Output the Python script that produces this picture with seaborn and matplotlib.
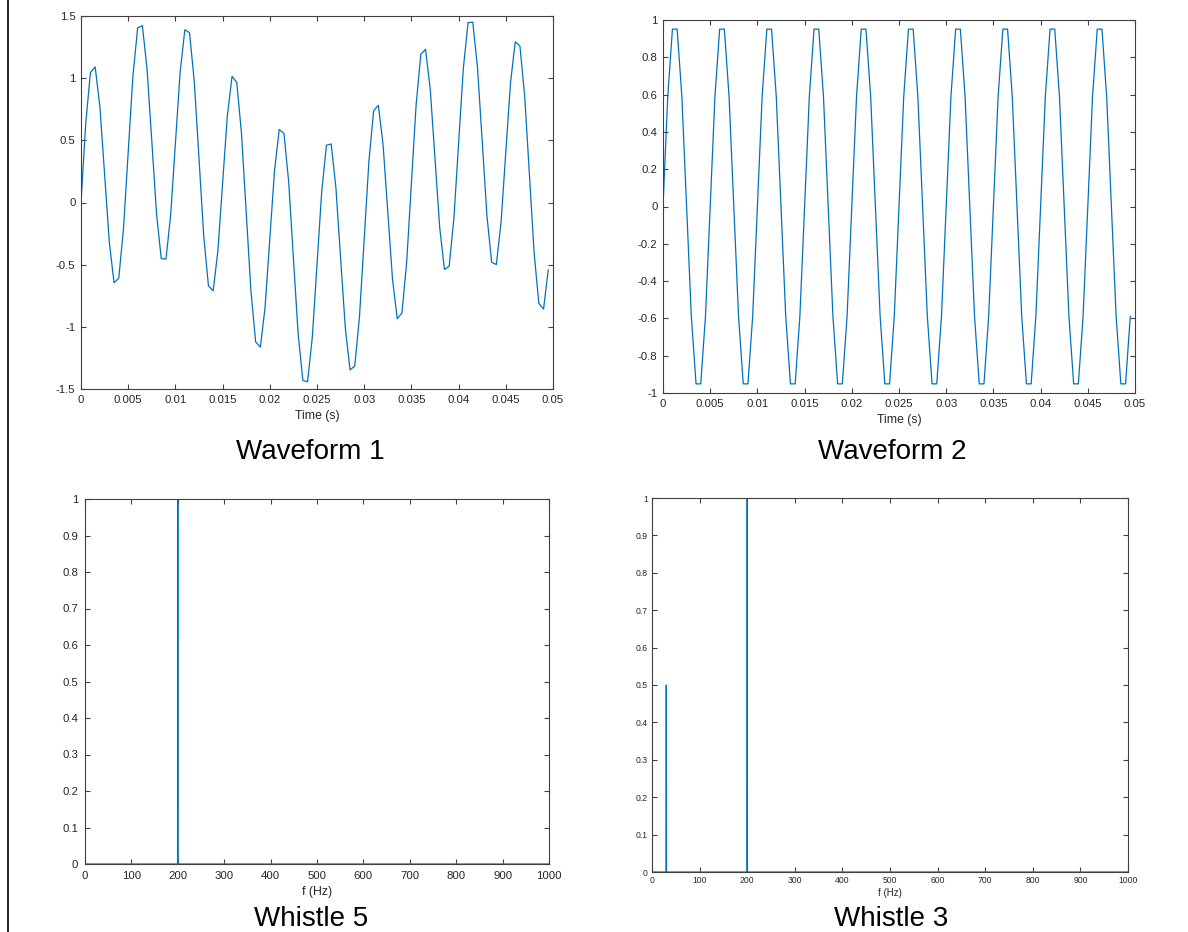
import matplotlib
matplotlib.use("Agg")
import matplotlib.pyplot as plt
from matplotlib.lines import Line2D
from matplotlib.ticker import FixedLocator, FuncFormatter
import seaborn as sns

# ---------------- data ----------------
time_s = [
    0.0000, 0.0005, 0.0010, 0.0015, 0.0020, 0.0025, 0.0030, 0.0035, 0.0040, 0.0045,
    0.0050, 0.0055, 0.0060, 0.0065, 0.0070, 0.0075, 0.0080, 0.0085, 0.0090, 0.0095,
    0.0100, 0.0105, 0.0110, 0.0115, 0.0120, 0.0125, 0.0130, 0.0135, 0.0140, 0.0145,
    0.0150, 0.0155, 0.0160, 0.0165, 0.0170, 0.0175, 0.0180, 0.0185, 0.0190, 0.0195,
    0.0200, 0.0205, 0.0210, 0.0215, 0.0220, 0.0225, 0.0230, 0.0235, 0.0240, 0.0245,
    0.0250, 0.0255, 0.0260, 0.0265, 0.0270, 0.0275, 0.0280, 0.0285, 0.0290, 0.0295,
    0.0300, 0.0305, 0.0310, 0.0315, 0.0320, 0.0325, 0.0330, 0.0335, 0.0340, 0.0345,
    0.0350, 0.0355, 0.0360, 0.0365, 0.0370, 0.0375, 0.0380, 0.0385, 0.0390, 0.0395,
    0.0400, 0.0405, 0.0410, 0.0415, 0.0420, 0.0425, 0.0430, 0.0435, 0.0440, 0.0445,
    0.0450, 0.0455, 0.0460, 0.0465, 0.0470, 0.0475, 0.0480, 0.0485, 0.0490, 0.0495,
]

waveform1 = [
    0.000, 0.635, 1.045, 1.091, 0.772, 0.227, -0.320, -0.645, -0.609, -0.213,
    0.405, 1.018, 1.404, 1.422, 1.072, 0.494, -0.089, -0.451, -0.455, -0.100,
    0.476, 1.047, 1.389, 1.365, 0.973, 0.354, -0.269, -0.670, -0.710, -0.389,
    0.155, 0.697, 1.014, 0.967, 0.556, -0.078, -0.712, -1.121, -1.164, -0.842,
    -0.294, 0.257, 0.587, 0.556, 0.166, -0.446, -1.053, -1.431, -1.442, -1.086,
    -0.500, 0.090, 0.460, 0.471, 0.123, -0.446, -1.010, -1.346, -1.316, -0.918,
    -0.294, 0.333, 0.738, 0.782, 0.464, -0.078, -0.619, -0.935, -0.888, -0.479,
    0.155, 0.786, 1.192, 1.232, 0.907, 0.354, -0.203, -0.538, -0.513, -0.129,
    0.476, 1.076, 1.447, 1.451, 1.087, 0.494, -0.104, -0.481, -0.499, -0.157,
    0.405, 0.963, 1.293, 1.258, 0.856, 0.227, -0.404, -0.812, -0.857, -0.541,
]

waveform2 = [
    0.000, 0.588, 0.951, 0.951, 0.588, 0.000, -0.588, -0.951, -0.951, -0.588,
    0.000, 0.588, 0.951, 0.951, 0.588, 0.000, -0.588, -0.951, -0.951, -0.588,
    0.000, 0.588, 0.951, 0.951, 0.588, 0.000, -0.588, -0.951, -0.951, -0.588,
    0.000, 0.588, 0.951, 0.951, 0.588, 0.000, -0.588, -0.951, -0.951, -0.588,
    0.000, 0.588, 0.951, 0.951, 0.588, 0.000, -0.588, -0.951, -0.951, -0.588,
    0.000, 0.588, 0.951, 0.951, 0.588, 0.000, -0.588, -0.951, -0.951, -0.588,
    0.000, 0.588, 0.951, 0.951, 0.588, 0.000, -0.588, -0.951, -0.951, -0.588,
    0.000, 0.588, 0.951, 0.951, 0.588, 0.000, -0.588, -0.951, -0.951, -0.588,
    0.000, 0.588, 0.951, 0.951, 0.588, 0.000, -0.588, -0.951, -0.951, -0.588,
    0.000, 0.588, 0.951, 0.951, 0.588, 0.000, -0.588, -0.951, -0.951, -0.588,
]

whistle5_freq = [0, 199.5, 200, 200.5, 1000]
whistle5_amp = [0, 0, 1.0, 0, 0]

whistle3_freq = [0, 29.5, 30, 30.5, 199.5, 200, 200.5, 1000]
whistle3_amp = [0, 0, 0.5, 0, 0, 1.0, 0, 0]

titles = ["Waveform 1", "Waveform 2", "Whistle 5", "Whistle 3"]
xlabels = ["Time (s)", "Time (s)", "f (Hz)", "f (Hz)"]

time_ticks = [0, 0.005, 0.01, 0.015, 0.02, 0.025, 0.03, 0.035, 0.04, 0.045, 0.05]
freq_ticks = [0, 100, 200, 300, 400, 500, 600, 700, 800, 900, 1000]
w1_yticks = [-1.5, -1, -0.5, 0, 0.5, 1, 1.5]
w2_yticks = [-1, -0.8, -0.6, -0.4, -0.2, 0, 0.2, 0.4, 0.6, 0.8, 1]
sp_yticks = [0, 0.1, 0.2, 0.3, 0.4, 0.5, 0.6, 0.7, 0.8, 0.9, 1]

# ---------------- style ----------------
sns.set_theme(style="ticks")
plt.rcParams["font.family"] = ["Liberation Sans", "DejaVu Sans"]
plt.rcParams["axes.unicode_minus"] = False

LINE_C = "#0072BD"
AX_C = "#404040"
TXT_C = "#262626"

W, H = 1188, 932
fig = plt.figure(figsize=(W / 100, H / 100), dpi=100)


def add_axes(l, t, r, b):
    return fig.add_axes([l / W, 1 - b / H, (r - l) / W, (b - t) / H])


fmt = FuncFormatter(lambda v, p: f"{round(v, 6):g}")


def style(ax, xlim, xticks, ylim, yticks, xlabel, tick_fs, label_fs, pad, lpad):
    ax.set_xlim(*xlim)
    ax.set_ylim(*ylim)
    ax.xaxis.set_major_locator(FixedLocator(xticks))
    ax.yaxis.set_major_locator(FixedLocator(yticks))
    ax.xaxis.set_major_formatter(fmt)
    ax.yaxis.set_major_formatter(fmt)
    ax.tick_params(direction="in", top=True, right=True, length=3.5, width=0.8,
                   color=AX_C, labelcolor=TXT_C, labelsize=tick_fs, pad=pad)
    for s in ax.spines.values():
        s.set_visible(True)
        s.set_color(AX_C)
        s.set_linewidth(0.8)
    ax.set_xlabel(xlabel, fontsize=label_fs, color=TXT_C, labelpad=lpad)
    ax.set_ylabel("")


ax1 = add_axes(81, 16, 553, 389)
sns.lineplot(x=time_s, y=waveform1, ax=ax1, color=LINE_C, linewidth=0.9)
style(ax1, (0, 0.05), time_ticks, (-1.5, 1.5), w1_yticks, xlabels[0], 8.2, 8.8, 4, 4)

ax2 = add_axes(663, 20, 1135, 393)
sns.lineplot(x=time_s, y=waveform2, ax=ax2, color=LINE_C, linewidth=0.9)
style(ax2, (0, 0.05), time_ticks, (-1, 1), w2_yticks, xlabels[1], 8.2, 8.8, 4, 4)

ax3 = add_axes(85, 499, 549, 864)
sns.lineplot(x=whistle5_freq, y=whistle5_amp, ax=ax3, color=LINE_C, linewidth=0.9)
style(ax3, (0, 1000), freq_ticks, (0, 1), sp_yticks, xlabels[2], 8.2, 8.8, 5, 4)

ax4 = add_axes(652, 498, 1128, 872)
sns.lineplot(x=whistle3_freq, y=whistle3_amp, ax=ax4, color=LINE_C, linewidth=0.9)
style(ax4, (0, 1000), freq_ticks, (0, 1), sp_yticks, xlabels[3], 6.2, 7, 3, 2)

title_pos = [(310, 459), (892, 459), (311, 926), (891, 926)]
for txt, (x, y) in zip(titles, title_pos):
    fig.text(x / W, 1 - y / H, txt, ha="center", va="baseline",
             fontsize=20, color="black")

fig.add_artist(Line2D([7.5 / W, 7.5 / W], [0, 1], transform=fig.transFigure,
                      color="black", linewidth=1.2))

fig.savefig("out.png", dpi=100)
